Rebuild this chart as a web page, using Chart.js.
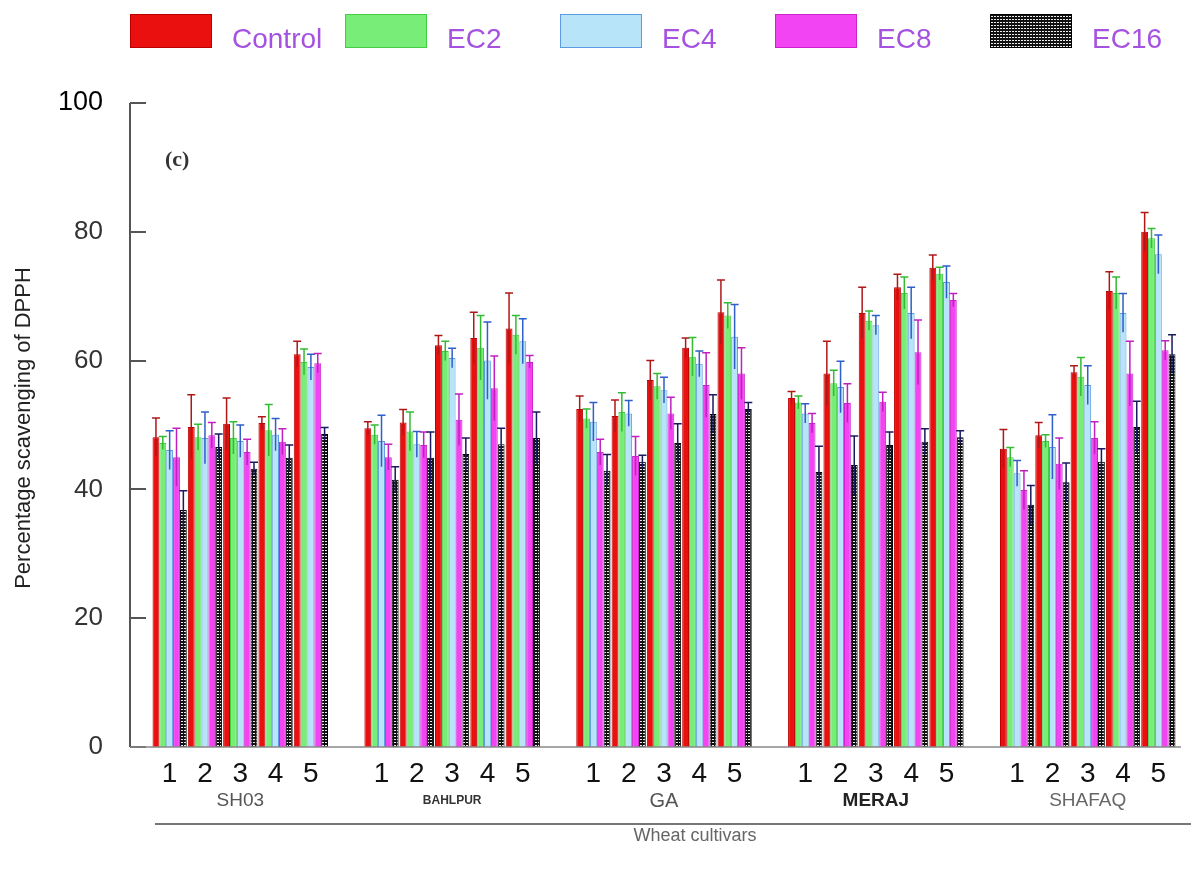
<!DOCTYPE html>
<html>
<head>
<meta charset="utf-8">
<title>DPPH scavenging</title>
<script src="https://cdn.jsdelivr.net/npm/chart.js@4.4.0/dist/chart.umd.min.js"></script>
<style>
  html, body { margin: 0; padding: 0; background: #fff; }
  #wrap { width: 1191px; height: 869px; position: relative; }
</style>
</head>
<body>
<div id="wrap"><canvas id="chart" width="1191" height="869"></canvas></div>
<script>
// cultivars, each with growth stages 1..5
const cultivars = ['SH03', 'BAHLPUR', 'GA', 'MERAJ', 'SHAFAQ'];
const stages = ['1', '2', '3', '4', '5'];
const seriesNames = ['Control', 'EC2', 'EC4', 'EC8', 'EC16'];
const yTickValues = [0, 20, 40, 60, 80, 100];

// values, 25 per series (cultivar by cultivar, stage 1..5)
const control = [48.1, 49.7, 50.2, 50.3, 61.0,  49.5, 50.4, 62.4, 63.5, 65.0,  52.5, 51.4, 57.0, 62.0, 67.5,  54.2, 58.0, 67.4, 71.4, 74.4,  46.3, 48.4, 58.2, 70.8, 80.0];
const ec2     = [47.2, 48.1, 48.0, 49.2, 59.8,  48.5, 49.0, 61.5, 62.0, 64.0,  51.0, 52.0, 56.0, 60.6, 67.0,  53.5, 56.5, 66.2, 70.5, 73.5,  45.0, 47.5, 57.5, 70.5, 79.0];
const ec4     = [46.1, 48.0, 47.5, 48.5, 59.0,  47.5, 47.0, 60.4, 60.0, 63.0,  50.5, 51.8, 55.4, 59.5, 63.7,  51.8, 55.9, 65.5, 67.4, 72.2,  42.5, 46.6, 56.2, 67.4, 76.5];
const ec8     = [45.0, 48.4, 45.8, 47.4, 59.6,  45.0, 46.9, 50.8, 55.7, 59.8,  45.8, 45.2, 51.8, 56.2, 58.0,  50.3, 53.4, 53.6, 61.3, 69.4,  39.9, 44.0, 48.0, 58.0, 61.6];
const ec16    = [36.8, 46.6, 43.2, 44.9, 48.6,  41.5, 44.9, 45.5, 47.0, 48.0,  42.9, 44.3, 47.2, 51.7, 52.5,  42.7, 43.8, 46.9, 47.4, 48.1,  37.6, 41.1, 44.3, 49.7, 61.0];

// error (+/-) for each value
const controlErr = [3.0, 5.0, 4.0, 1.0, 2.0,  1.0, 2.0, 1.5, 4.0, 5.5,  2.0, 2.5, 3.0, 1.5, 5.0,  1.0, 5.0, 4.0, 2.0, 2.0,  3.0, 2.0, 1.0, 3.0, 3.0];
const ec2Err     = [1.0, 2.0, 2.5, 4.0, 2.0,  1.5, 3.0, 1.5, 5.0, 3.0,  1.5, 3.0, 2.0, 3.0, 2.0,  1.0, 2.0, 1.5, 2.5, 1.0,  1.5, 1.0, 3.0, 2.5, 1.5];
const ec4Err     = [3.0, 4.0, 2.5, 2.5, 2.0,  4.0, 2.0, 1.5, 6.0, 3.5,  3.0, 2.0, 2.0, 2.0, 5.0,  1.5, 4.0, 1.5, 4.0, 2.5,  2.0, 5.0, 3.0, 3.0, 3.0];
const ec8Err     = [4.5, 2.0, 2.0, 2.0, 1.5,  2.0, 2.0, 4.0, 5.0, 1.0,  2.0, 3.0, 2.5, 5.0, 4.0,  1.5, 3.0, 1.5, 5.0, 1.0,  3.0, 4.0, 2.5, 5.0, 1.5];
const ec16Err    = [3.0, 2.0, 1.0, 2.0, 1.0,  2.0, 4.0, 2.5, 2.5, 4.0,  2.5, 1.0, 3.0, 3.0, 1.0,  4.0, 4.5, 2.0, 2.0, 1.0,  3.0, 3.0, 2.0, 4.0, 3.0];

const seriesValues = [control, ec2, ec4, ec8, ec16];
const seriesErrors = [controlErr, ec2Err, ec4Err, ec8Err, ec16Err];

// build category labels with an empty slot between cultivars
const labels = [];
const groupCenters = [];
cultivars.forEach((c, ci) => {
  if (ci > 0) labels.push('');
  groupCenters.push(labels.length + 2);
  stages.forEach(s => labels.push(s));
});
function spread(arr) {
  const out = [];
  cultivars.forEach((c, ci) => {
    if (ci > 0) out.push(null);
    stages.forEach((s, si) => out.push(arr[ci * stages.length + si]));
  });
  return out;
}

// black grid pattern for EC16
function gridPattern() {
  const p = document.createElement('canvas');
  p.width = 3; p.height = 3;
  const g = p.getContext('2d');
  g.fillStyle = '#111';
  g.fillRect(0, 0, 3, 3);
  g.fillStyle = '#eee';
  g.fillRect(1, 1, 2, 1);
  return g.createPattern(p, 'repeat');
}

const fills   = ['#ea1010', '#78ee78', '#b8e4fa', '#f244f2', gridPattern()];
const borders = ['#bb0000', '#44cc44', '#5b9be0', '#cc22cc', '#000000'];
const errColors = ['#b01818', '#33bb33', '#2f5fc8', '#c020c0', '#1a1a60'];

const datasets = seriesNames.map((name, i) => ({
  label: name,
  data: spread(seriesValues[i]),
  errors: spread(seriesErrors[i]),
  backgroundColor: fills[i],
  borderColor: borders[i],
  borderWidth: 1,
  categoryPercentage: 0.97,
  barPercentage: 1.0
}));

const errorBars = {
  id: 'errorBars',
  afterDatasetsDraw(chart) {
    const ctx = chart.ctx;
    const y = chart.scales.y;
    chart.data.datasets.forEach((ds, di) => {
      const meta = chart.getDatasetMeta(di);
      meta.data.forEach((bar, k) => {
        const v = ds.data[k];
        const e = ds.errors[k];
        if (v == null || e == null) return;
        const top = y.getPixelForValue(v + e);
        const bot = y.getPixelForValue(v - e);
        ctx.save();
        ctx.strokeStyle = errColors[di];
        ctx.lineWidth = 1.5;
        ctx.beginPath();
        ctx.moveTo(bar.x, bot);
        ctx.lineTo(bar.x, top);
        ctx.moveTo(bar.x - 4, top);
        ctx.lineTo(bar.x + 4, top);
        ctx.stroke();
        ctx.restore();
      });
    });
  }
};

const decorations = {
  id: 'decorations',
  afterDraw(chart) {
    const ctx = chart.ctx;
    const x = chart.scales.x;
    const y = chart.scales.y;
    const axisX = chart.chartArea.left - 22;
    ctx.save();
    // y axis line with inward ticks
    ctx.strokeStyle = '#555';
    ctx.lineWidth = 2;
    ctx.beginPath();
    ctx.moveTo(axisX, y.getPixelForValue(100));
    ctx.lineTo(axisX, y.getPixelForValue(0));
    yTickValues.forEach(t => {
      const py = Math.round(y.getPixelForValue(t));
      ctx.moveTo(axisX, py);
      ctx.lineTo(axisX + 16, py);
    });
    ctx.stroke();
    // x axis baseline
    ctx.strokeStyle = '#888';
    ctx.lineWidth = 1.5;
    ctx.beginPath();
    ctx.moveTo(axisX, y.getPixelForValue(0));
    ctx.lineTo(chart.chartArea.right + 5, y.getPixelForValue(0));
    ctx.stroke();

    // panel tag
    ctx.fillStyle = '#333';
    ctx.font = 'bold 22px "Liberation Serif"';
    ctx.textAlign = 'left';
    ctx.textBaseline = 'middle';
    ctx.fillText('(c)', 165, 160);

    // cultivar names
    const nameFonts = ['19px "Liberation Sans"', 'bold 12px "Liberation Sans"', '20px "Liberation Sans"', 'bold 19px "Liberation Sans"', '19px "Liberation Sans"'];
    const nameColors = ['#555', '#333', '#555', '#222', '#666'];
    ctx.textAlign = 'center';
    cultivars.forEach((c, ci) => {
      ctx.font = nameFonts[ci];
      ctx.fillStyle = nameColors[ci];
      ctx.fillText(c, x.getPixelForValue(groupCenters[ci]), 801);
    });

    // bracket line and axis title
    ctx.strokeStyle = '#777';
    ctx.lineWidth = 2;
    ctx.beginPath();
    ctx.moveTo(155, 824);
    ctx.lineTo(1191, 824);
    ctx.stroke();
    ctx.fillStyle = '#666';
    ctx.font = '18px "Liberation Sans"';
    ctx.fillText('Wheat cultivars', 695, 836);

    // y title
    ctx.save();
    ctx.translate(24, 428);
    ctx.rotate(-Math.PI / 2);
    ctx.fillStyle = '#222';
    ctx.font = '22px "Liberation Sans"';
    ctx.fillText('Percentage scavenging of DPPH', 0, 0);
    ctx.restore();

    // legend across the top
    chart.data.datasets.forEach((ds, i) => {
      const bx = 130 + i * 215;
      const by = 14;
      ctx.fillStyle = ds.backgroundColor;
      ctx.fillRect(bx, by, 82, 34);
      ctx.strokeStyle = ds.borderColor;
      ctx.lineWidth = 1;
      ctx.strokeRect(bx + 0.5, by + 0.5, 81, 33);
      ctx.fillStyle = '#a552e0';
      ctx.font = '28px "Liberation Sans"';
      ctx.textAlign = 'left';
      ctx.fillText(ds.label, bx + 102, by + 26);
    });
    ctx.restore();
  }
};

new Chart(document.getElementById('chart'), {
  type: 'bar',
  data: { labels: labels, datasets: datasets },
  options: {
    responsive: false,
    animation: false,
    devicePixelRatio: 1,
    layout: { padding: { top: 103, right: 15, left: 0, bottom: 0 } },
    plugins: { legend: { display: false }, tooltip: { enabled: false } },
    scales: {
      x: {
        grid: { display: false, drawTicks: false },
        border: { display: false },
        ticks: {
          autoSkip: false, maxRotation: 0, minRotation: 0, padding: 10,
          color: '#111',
          font: { family: 'Liberation Sans', size: 28 }
        },
        afterFit(s) { s.height = 122; }
      },
      y: {
        min: 0, max: 100,
        grid: { display: false, drawTicks: false },
        border: { display: false },
        ticks: {
          stepSize: 20, padding: 49,
          color: c => c.tick.value === 100 ? '#000' : '#333',
          font: c => ({ family: 'Liberation Sans', size: c.tick && c.tick.value === 100 ? 27 : 26 })
        },
        afterFit(s) { s.width = 152; }
      }
    }
  },
  plugins: [errorBars, decorations]
});
</script>
</body>
</html>
